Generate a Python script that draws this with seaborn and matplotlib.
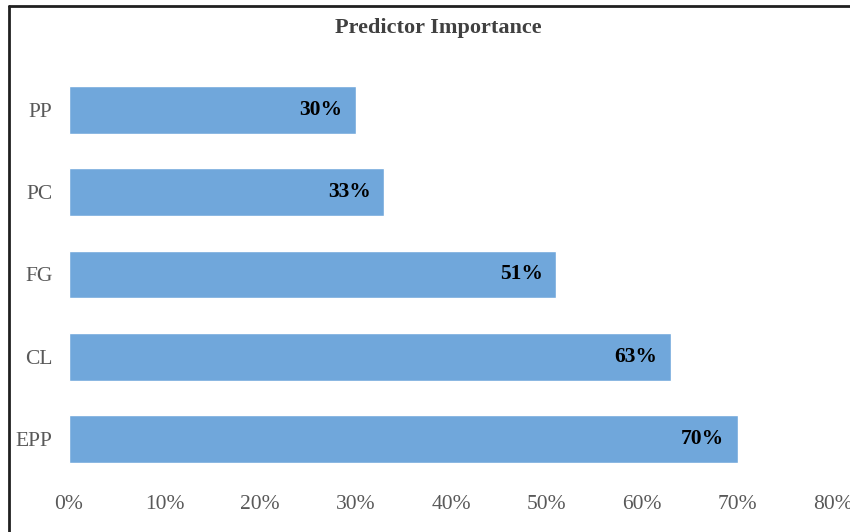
import seaborn as sns
import matplotlib.pyplot as plt
import pandas as pd
from matplotlib.lines import Line2D
from matplotlib.ticker import PercentFormatter

predictors = ["PP", "PC", "FG", "CL", "EPP"]
importance = [30, 33, 51, 63, 70]
x_ticks = [0, 10, 20, 30, 40, 50, 60, 70, 80]

df = pd.DataFrame({"predictor": predictors, "importance": importance})

sns.set_theme(style="white")
plt.rcParams["font.family"] = ["Liberation Serif", "DejaVu Serif"]

fig = plt.figure(figsize=(8.5, 5.32), dpi=100)
ax = fig.add_axes([69 / 850, 1 - 480 / 532, (833 - 69) / 850, (480 - 69) / 532])

sns.barplot(data=df, x="importance", y="predictor", orient="h",
            color="#70A7DB", saturation=1, width=0.58, ax=ax)

# value labels just inside the bar ends
for i, v in enumerate(importance):
    ax.annotate(f"{v}%", xy=(v, i), xytext=(-9.5, 0), textcoords="offset points",
                ha="right", va="center", fontsize=15.5, fontweight="bold", color="black")

ax.set_xlim(0, 80)
ax.set_xticks(x_ticks)
ax.xaxis.set_major_formatter(PercentFormatter(decimals=0))
ax.set_xlabel("")
ax.set_ylabel("")
ax.tick_params(axis="x", length=0, pad=11, labelsize=15.5, labelcolor="#595959")
ax.tick_params(axis="y", length=0, pad=12, labelsize=15.5, labelcolor="#595959")
sns.despine(ax=ax, left=True, bottom=True)

fig.text(438 / 850, 1 - 28 / 532, "Predictor Importance", ha="center", va="center",
         fontsize=16, fontweight="bold", color="#404040")

# outer chart border (cropped on the right and bottom)
fig.add_artist(Line2D([9 / 850, 9 / 850], [0, 1 - 6 / 532], transform=fig.transFigure,
                      color="#202020", lw=2))
fig.add_artist(Line2D([9 / 850, 1], [1 - 6 / 532, 1 - 6 / 532], transform=fig.transFigure,
                      color="#202020", lw=2))

fig.savefig("out.png", dpi=100)
